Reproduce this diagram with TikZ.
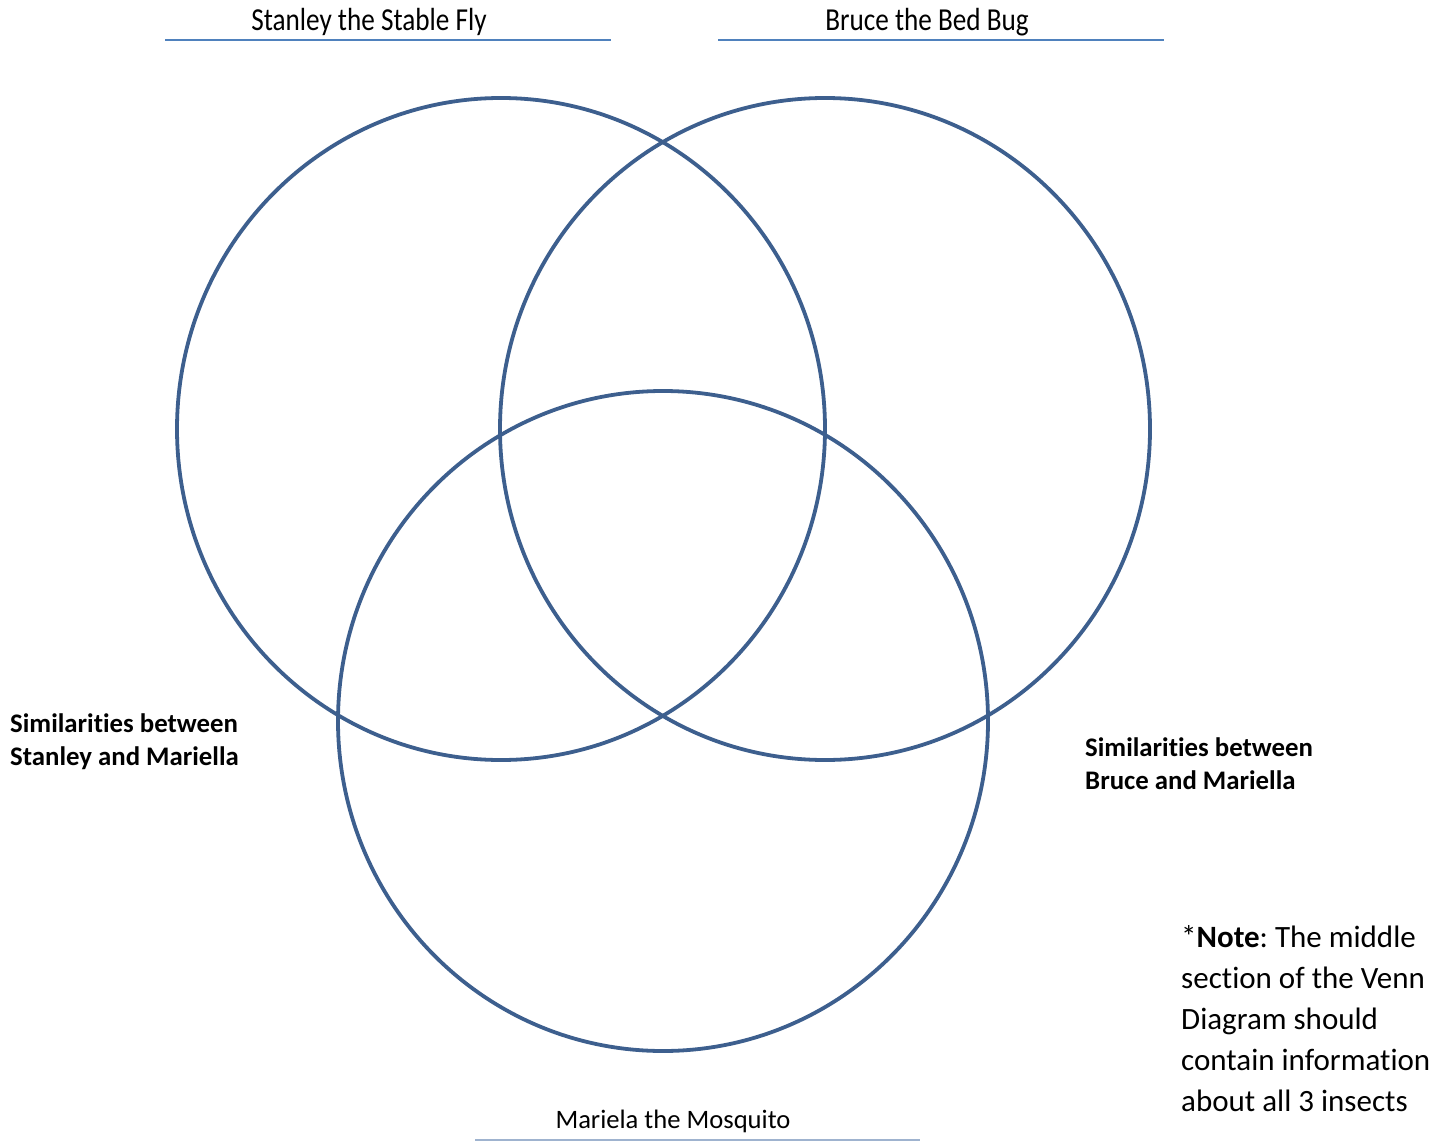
\documentclass[tikz,border=0pt]{standalone}
\usepackage{fontspec}
\setmainfont[Ligatures=CommonOff]{Carlito}
\usetikzlibrary{shapes.geometric}
\definecolor{ring}{HTML}{3D5F8E}
\definecolor{rule}{HTML}{4F81BD}
\definecolor{rulelight}{HTML}{9FB3CF}
\frenchspacing
\begin{document}
\begin{tikzpicture}[x=1pt,y=-1pt,
  ring/.style={draw=ring,line width=3.8pt,ellipse,inner sep=0pt,outer sep=0pt},
  title/.style={inner sep=0pt,anchor=base,font=\fontsize{32}{36}\selectfont},
  simlabel/.style={inner sep=0pt,anchor=base west,align=left,font=\bfseries\fontsize{26.8}{33}\selectfont},
  note/.style={inner sep=0pt,anchor=base west,align=left,font=\fontsize{31}{41}\selectfont},
  underline/.style={draw=rule,line width=2pt}]
\useasboundingbox (0,0) rectangle (1453,1142);
% circles
\node[ring,minimum width=648pt,minimum height=662pt] (stanley) at (501,429) {};
\node[ring,minimum width=650pt,minimum height=662pt] (bruce) at (825,429) {};
\node[ring,minimum width=650pt,minimum height=660pt] (mariela) at (663,721) {};
% titles
\node[title,xscale=0.85] (t1) at (369,31) {Stanley the Stable Fly};
\node[title,xscale=0.85] (t2) at (927,31) {Bruce the Bed Bug};
\node[title,font=\fontsize{26.6}{30}\selectfont] (t3) at (673,1128) {Mariela the Mosquito};
\coordinate (l1a) at (165,40); \coordinate (l1b) at (611,40);
\coordinate (l2a) at (718,40); \coordinate (l2b) at (1164,40);
\coordinate (l3a) at (475,1140); \coordinate (l3b) at (920,1140);
\draw[underline] (l1a) -- (l1b);
\draw[underline] (l2a) -- (l2b);
\draw[draw=rulelight,line width=2pt] (l3a) -- (l3b);
% similarity labels (anchored at baseline of last line)
\node[simlabel] (sm) at (10,765) {Similarities between\\Stanley and Mariella};
\node[simlabel] (bm) at (1085,789) {Similarities between\\Bruce and Mariella};
% note
\node[note] (nt) at (1181,1111) {*\textbf{Note}: The middle\\section of the Venn\\Diagram should\\contain information\\about all 3 insects};
\end{tikzpicture}
\end{document}
